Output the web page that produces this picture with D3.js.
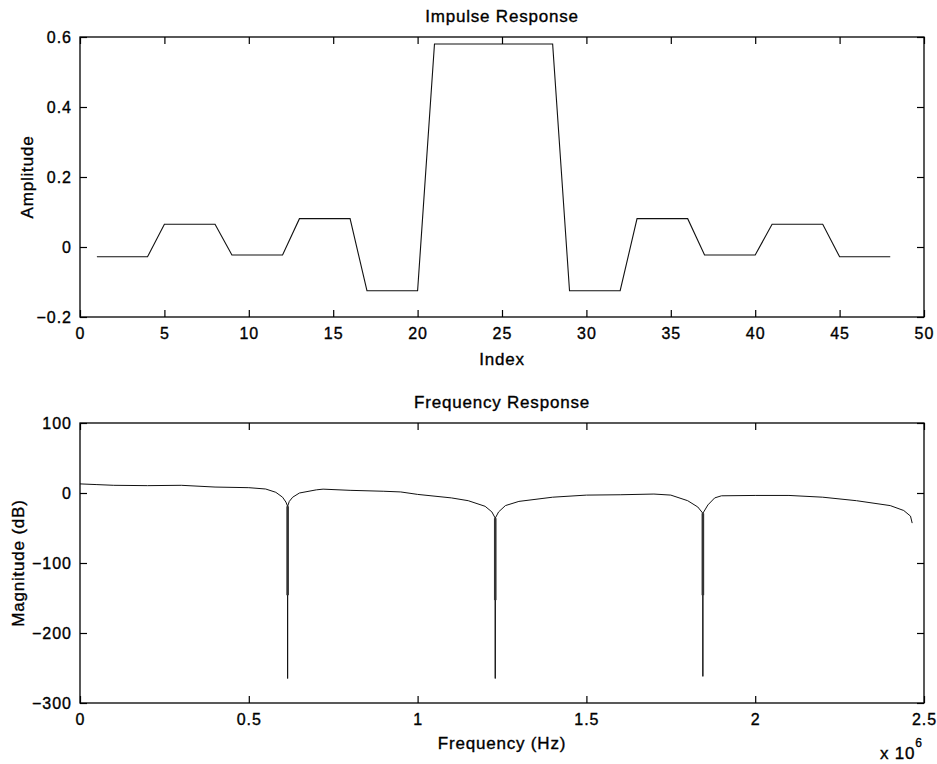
<!DOCTYPE html>
<html>
<head>
<meta charset="utf-8">
<script src="https://cdn.jsdelivr.net/npm/d3@7"></script>
<style>
  body { margin: 0; background: #fff; }
  svg { display: block; }
  text { font-family: "Liberation Sans", Arial, Helvetica, sans-serif; fill: #000; stroke: #000; stroke-width: 0.35; }
  .tick text { font-size: 16px; letter-spacing: 1px; }
  .tick line { stroke: #000; stroke-width: 1.2; }
  .lbl { font-size: 17px; letter-spacing: 0.8px; }
</style>
</head>
<body>
<svg width="937" height="764"></svg>
<script>
// impulse response (index 1..48)
const index = d3.range(1, 49);
const amplitude = [
  -0.028, -0.028, -0.028, -0.028,
  0.065, 0.065, 0.065, 0.065,
  -0.023, -0.023, -0.023, -0.023,
  0.081, 0.081, 0.081, 0.081,
  -0.125, -0.125, -0.125, -0.125,
  0.58, 0.58, 0.58, 0.58, 0.58, 0.58, 0.58, 0.58,
  -0.125, -0.125, -0.125, -0.125,
  0.081, 0.081, 0.081, 0.081,
  -0.023, -0.023, -0.023, -0.023,
  0.065, 0.065, 0.065, 0.065,
  -0.028, -0.028, -0.028, -0.028
];
const ampTicks = [-0.2, 0, 0.2, 0.4, 0.6];
const indexTicks = [0, 5, 10, 15, 20, 25, 30, 35, 40, 45, 50];

// frequency response (x 10^6 Hz)
const freq = [0, 0.05, 0.1, 0.2, 0.3, 0.4, 0.5, 0.55, 0.58, 0.6, 0.61, 0.615,
  0.62, 0.63, 0.65, 0.7, 0.72, 0.8, 0.9, 0.95, 1.0, 1.1, 1.15, 1.2, 1.22, 1.23,
  1.24, 1.26, 1.3, 1.4, 1.5, 1.6, 1.7, 1.75, 1.8, 1.83, 1.845,
  1.86, 1.88, 1.9, 2.0, 2.1, 2.2, 2.3, 2.4, 2.44, 2.46, 2.465];
const magDb = [13, 12, 11, 10.5, 11, 8.5, 7.6, 5.7, 1, -6, -13, -19,
  -12, -6, 0, 4.5, 5.5, 3.8, 2.5, 1.5, -2, -7, -11, -19, -27, -36,
  -27, -18, -12, -6, -3, -2.5, -1.5, -3, -11, -20, -29,
  -17, -7, -4, -3.5, -3.5, -6, -11, -18, -25, -33, -43];
// notches: dense band, then single line to the floor
const notchFreq = [0.615, 1.23, 1.845];
const notchTop = [-19, -36, -29];
const notchBand = [-146, -153, -146];
const notchFloor = [-265, -265, -262];
const magTicks = [-300, -200, -100, 0, 100];
const freqTicks = [0, 0.5, 1, 1.5, 2, 2.5];

const svg = d3.select("svg");
const left = 80, right = 924;

const fmt = d => (d < 0 ? "\u2212" : "") + d3.format("")(Math.abs(d));

function drawAxes(g, x, y, xt, yt, h) {
  g.append("g")
    .attr("transform", `translate(0,${h})`)
    .call(d3.axisBottom(x).tickValues(xt).tickSize(-7).tickPadding(11).tickFormat(fmt))
    .call(a => a.select(".domain").remove());
  g.append("g")
    .call(d3.axisTop(x).tickValues(xt).tickSize(-7).tickFormat(""))
    .call(a => a.select(".domain").remove());
  g.append("g")
    .call(d3.axisLeft(y).tickValues(yt).tickSize(-7).tickPadding(8).tickFormat(fmt))
    .call(a => a.select(".domain").remove());
  g.append("g")
    .attr("transform", `translate(${right - left},0)`)
    .call(d3.axisRight(y).tickValues(yt).tickSize(-7).tickFormat(""))
    .call(a => a.select(".domain").remove());
  g.selectAll(".tick text").attr("font-family", null).attr("font-size", null);
  g.append("rect")
    .attr("width", right - left).attr("height", h)
    .attr("fill", "none").attr("stroke", "#000").attr("stroke-width", 1.3);
}

// ---- top: impulse response
const h1 = 280;
const g1 = svg.append("g").attr("transform", `translate(${left},37)`);
const x1 = d3.scaleLinear().domain([0, 50]).range([0, right - left]);
const y1 = d3.scaleLinear().domain([-0.2, 0.6]).range([h1, 0]);

g1.append("path")
  .datum(index.map((d, i) => [d, amplitude[i]]))
  .attr("fill", "none").attr("stroke", "#111").attr("stroke-width", 1.1)
  .attr("d", d3.line().x(d => x1(d[0])).y(d => y1(d[1])));
drawAxes(g1, x1, y1, indexTicks, ampTicks, h1);

g1.append("text").attr("class", "lbl").attr("x", (right - left) / 2).attr("y", -15)
  .attr("text-anchor", "middle").text("Impulse Response");
g1.append("text").attr("class", "lbl").attr("x", (right - left) / 2).attr("y", h1 + 48)
  .attr("text-anchor", "middle").text("Index");
g1.append("text").attr("class", "lbl")
  .attr("transform", `translate(-47,${h1 / 2}) rotate(-90)`)
  .attr("text-anchor", "middle").text("Amplitude");

// ---- bottom: frequency response
const h2 = 280;
const g2 = svg.append("g").attr("transform", `translate(${left},423)`);
const x2 = d3.scaleLinear().domain([0, 2.5]).range([0, right - left]);
const y2 = d3.scaleLinear().domain([-300, 100]).range([h2, 0]);

// main curve, dropping to the floor at each notch
const pts = [];
freq.forEach((f, i) => {
  pts.push([f, magDb[i]]);
  const k = notchFreq.indexOf(f);
  if (k >= 0) { pts.push([f, notchFloor[k]]); pts.push([f, magDb[i]]); }
});
g2.append("path")
  .datum(pts)
  .attr("fill", "none").attr("stroke", "#111").attr("stroke-width", 1)
  .attr("d", d3.line().x(d => x2(d[0])).y(d => y2(d[1])));
g2.selectAll(".band")
  .data(notchFreq)
  .join("line")
  .attr("class", "band")
  .attr("x1", d => x2(d)).attr("x2", d => x2(d))
  .attr("y1", (d, i) => y2(notchTop[i])).attr("y2", (d, i) => y2(notchBand[i]))
  .attr("stroke", "#333").attr("stroke-width", 2.6);
drawAxes(g2, x2, y2, freqTicks, magTicks, h2);

g2.append("text").attr("class", "lbl").attr("x", (right - left) / 2).attr("y", -15)
  .attr("text-anchor", "middle").text("Frequency Response");
g2.append("text").attr("class", "lbl").attr("x", (right - left) / 2).attr("y", h2 + 46)
  .attr("text-anchor", "middle").text("Frequency (Hz)");
g2.append("text").attr("class", "lbl")
  .attr("transform", `translate(-56,${h2 / 2}) rotate(-90)`)
  .attr("text-anchor", "middle").text("Magnitude (dB)");
const ex = g2.append("text").attr("class", "lbl")
  .attr("x", 800).attr("y", h2 + 56);
ex.append("tspan").text("x 10");
ex.append("tspan").attr("dy", -12).attr("font-size", 12).text("6");
</script>
</body>
</html>
